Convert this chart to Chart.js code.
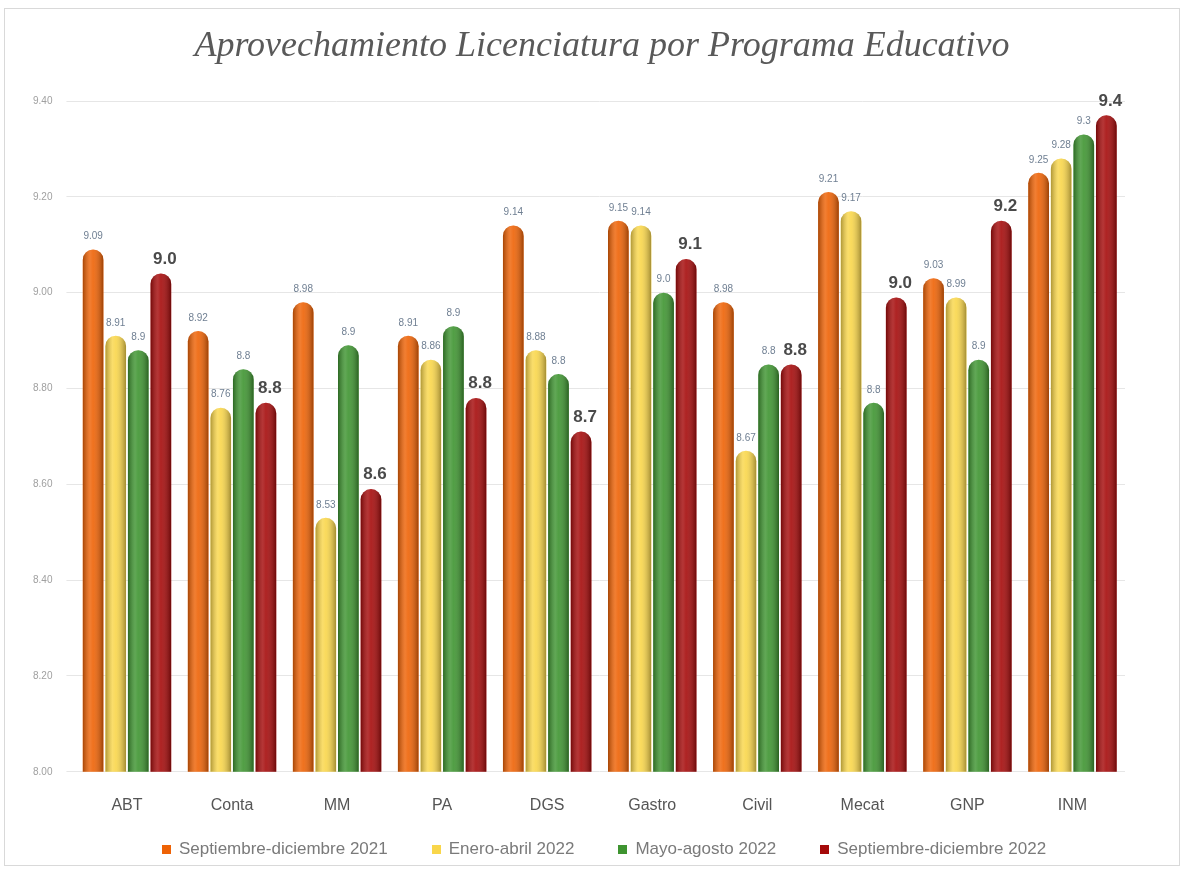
<!DOCTYPE html>
<html>
<head>
<meta charset="utf-8">
<script src="https://cdn.jsdelivr.net/npm/chart.js@4.4.1/dist/chart.umd.min.js"></script>
<style>
  html, body { margin: 0; padding: 0; background: #ffffff; }
  #wrap { position: absolute; left: 4px; top: 8px; width: 1176px; height: 858px; border: 1px solid #d9d9d9; box-sizing: border-box; background: #fff; }
  canvas { display: block; }
  #legend { position: absolute; left: 0; top: 838px; width: 1208px; height: 22px; display: flex; justify-content: center; gap: 44px;
            font-family: "Liberation Sans", Arial, sans-serif; font-size: 17px; color: #7a7a7a; line-height: 22px; }
  #legend .item { display: flex; align-items: center; white-space: nowrap; }
  #legend .box { width: 9px; height: 9px; margin-right: 8px; }
</style>
</head>
<body>
<div id="wrap"><canvas id="c" width="1174" height="856"></canvas></div>
<div id="legend"></div>
<script>
const chartTitle = 'Aprovechamiento Licenciatura por Programa Educativo';
const categories = ["ABT", "Conta", "MM", "PA", "DGS", "Gastro", "Civil", "Mecat", "GNP", "INM"];
const seriesNames = ["Septiembre-diciembre 2021", "Enero-abril 2022", "Mayo-agosto 2022", "Septiembre-diciembre 2022"];
const sepDic2021 = [9.09, 8.92, 8.98, 8.91, 9.14, 9.15, 8.98, 9.21, 9.03, 9.25];
const eneAbr2022 = [8.91, 8.76, 8.53, 8.86, 8.88, 9.14, 8.67, 9.17, 8.99, 9.28];
const mayAgo2022 = [8.88, 8.84, 8.89, 8.93, 8.83, 9.00, 8.85, 8.77, 8.86, 9.33];
const sepDic2022 = [9.04, 8.77, 8.59, 8.78, 8.71, 9.07, 8.85, 8.99, 9.15, 9.37];
const yTicks = [8.00, 8.20, 8.40, 8.60, 8.80, 9.00, 9.20, 9.40];

const colors = ["#EE6205", "#F9D64A", "#3E9430", "#A50A0A"];
const labelDecimals = [2, 2, 1, 1];

// HTML legend built from the series names and colours
const legendEl = document.getElementById('legend');
seriesNames.forEach((name, i) => {
  const item = document.createElement('div');
  item.className = 'item';
  const box = document.createElement('span');
  box.className = 'box';
  box.style.background = colors[i];
  const txt = document.createElement('span');
  txt.textContent = name;
  item.appendChild(box);
  item.appendChild(txt);
  legendEl.appendChild(item);
});

const titlePlugin = {
  id: 'centeredTitle',
  afterDraw(chart) {
    const ctx = chart.ctx;
    ctx.save();
    ctx.font = 'italic 36px "Liberation Serif", "DejaVu Serif", serif';
    ctx.fillStyle = '#595959';
    ctx.textAlign = 'center';
    ctx.textBaseline = 'middle';
    ctx.fillText(chartTitle, 597, 38);
    ctx.restore();
  }
};

const cylinderPlugin = {
  id: 'cylinder',
  afterDatasetsDraw(chart) {
    const ctx = chart.ctx;
    const area = chart.chartArea;
    chart.data.datasets.forEach((ds, di) => {
      const meta = chart.getDatasetMeta(di);
      meta.data.forEach(bar => {
        const left = bar.x - bar.width / 2, right = bar.x + bar.width / 2;
        const top = bar.y, bottom = Math.min(bar.base, area.bottom);
        const r = bar.width / 2;
        ctx.save();
        ctx.beginPath();
        ctx.moveTo(left, bottom);
        ctx.lineTo(left, top + r);
        ctx.arc(bar.x, top + r, r, Math.PI, 0);
        ctx.lineTo(right, bottom);
        ctx.closePath();
        ctx.clip();
        const g = ctx.createLinearGradient(left, 0, right, 0);
        g.addColorStop(0, 'rgba(0,0,0,0.30)');
        g.addColorStop(0.35, 'rgba(255,255,255,0.18)');
        g.addColorStop(0.5, 'rgba(255,255,255,0.10)');
        g.addColorStop(1, 'rgba(0,0,0,0.35)');
        ctx.fillStyle = g;
        ctx.fillRect(left, top, right - left, bottom - top);
        ctx.restore();
      });
    });
  }
};

const labelPlugin = {
  id: 'valueLabels',
  afterDatasetsDraw(chart) {
    const ctx = chart.ctx;
    chart.data.datasets.forEach((ds, di) => {
      const meta = chart.getDatasetMeta(di);
      meta.data.forEach((bar, i) => {
        const v = ds.data[i];
        ctx.save();
        ctx.textAlign = 'center';
        ctx.textBaseline = 'bottom';
        if (di === 3) {
          ctx.font = 'bold 17px "Liberation Sans", Arial, sans-serif';
          ctx.fillStyle = '#4a4a4a';
          ctx.fillText(v.toFixed(1), bar.x + 4, bar.y - 6);
        } else {
          ctx.font = '10px "Liberation Sans", Arial, sans-serif';
          ctx.fillStyle = '#6f7f92';
          ctx.fillText(v.toFixed(labelDecimals[di]), bar.x, bar.y - 8);
        }
        ctx.restore();
      });
    });
  }
};

new Chart(document.getElementById('c'), {
  type: 'bar',
  data: {
    labels: categories,
    datasets: [
      { label: seriesNames[0], data: sepDic2021, backgroundColor: colors[0] },
      { label: seriesNames[1], data: eneAbr2022, backgroundColor: colors[1] },
      { label: seriesNames[2], data: mayAgo2022, backgroundColor: colors[2] },
      { label: seriesNames[3], data: sepDic2022, backgroundColor: colors[3] }
    ].map(d => Object.assign(d, {
      borderRadius: { topLeft: 12, topRight: 12, bottomLeft: 0, bottomRight: 0 },
      borderSkipped: 'bottom',
      borderWidth: 0,
      barPercentage: 0.92,
      categoryPercentage: 0.86
    }))
  },
  options: {
    responsive: false,
    animation: false,
    layout: { padding: { left: 14, right: 54, top: 92, bottom: 34 } },
    plugins: {
      title: { display: false },
      legend: { display: false },
      tooltip: { enabled: false }
    },
    scales: {
      x: {
        grid: { display: false },
        border: { display: false },
        ticks: { color: '#555', font: { family: '"Liberation Sans", Arial, sans-serif', size: 16 }, padding: 16 }
      },
      y: {
        min: 8.0, max: 9.4,
        afterBuildTicks(axis) { axis.ticks = yTicks.map(v => ({ value: v })); },
        grid: { color: '#e6e6e6', lineWidth: 1 },
        border: { display: false },
        ticks: {
          color: '#a0a0a0',
          font: { family: '"Liberation Sans", Arial, sans-serif', size: 10 },
          padding: 14,
          callback: v => Number(v).toFixed(2)
        }
      }
    }
  },
  plugins: [cylinderPlugin, labelPlugin, titlePlugin]
});
</script>
</body>
</html>
